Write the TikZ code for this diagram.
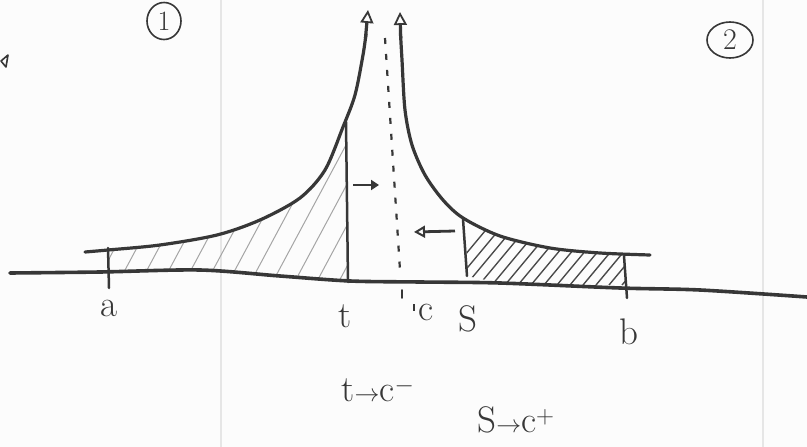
\documentclass[tikz,border=0pt]{standalone}
\usepackage{fontspec}
\usetikzlibrary{arrows.meta,shapes.geometric}
\definecolor{ink}{RGB}{55,55,55}
\definecolor{paper}{RGB}{252,252,252}
\definecolor{rule}{RGB}{230,230,230}
\tikzset{
  curve/.style={draw=ink,line width=3.2pt,line cap=round,line join=round},
  axisline/.style={draw=ink,line width=3.6pt,line cap=round},
  tickline/.style={draw=ink,line width=2.5pt,line cap=round},
  hatchlight/.style={draw=ink!45,line width=1pt},
  hatchdark/.style={draw=ink!90,line width=1.4pt},
  lbl/.style={text=ink,font=\fontsize{37}{40}\selectfont,inner sep=0pt},
  circled/.style={draw=ink,line width=1.6pt,ellipse,inner sep=0pt},
  opentip/.style={-{Triangle[open,length=13pt,width=13pt,line width=1.8pt]}},
}
\begin{document}
\begin{tikzpicture}[x=1pt,y=-1pt]
\useasboundingbox[fill=paper] (0,0) rectangle (807,447);
% faint paper rulings
\draw[rule,line width=1.2pt] (221,0) -- (221,447);
\draw[rule,line width=1.2pt] (763,0) -- (763,447);
% hatching, left region
\begin{scope}
  \clip (108,250) -- (160,245) -- (217,235) -- (260,220) -- (300,198) -- (325,170) -- (343,127) -- (348,118) -- (348,281) -- (280,276) -- (200,270) -- (108,273) -- cycle;
  \foreach \x in {95,117,...,360} \draw[hatchlight] (\x,285) -- ++(75,-140);
\end{scope}
% hatching, right region
\begin{scope}
  \clip (466,220) -- (500,236) -- (550,248) -- (600,253) -- (624,255) -- (626,287) -- (560,285) -- (500,283) -- (467,276) -- cycle;
  \foreach \x in {440,453,...,640} \draw[hatchdark] (\x,285) -- ++(50,-60);
\end{scope}
% axis
\draw[axisline] plot[smooth] coordinates {(10,273) (100,272) (200,270) (280,276) (350,281) (420,282) (500,283) (620,288) (700,290) (807,297)};
% curves
\draw[curve] plot[smooth] coordinates {(85,252) (108,250) (160,245) (217,235) (260,220) (300,198) (325,170) (343,127) (355,95) (363,55) (366,34)};
\draw[curve,opentip] (365.5,38) -- (368,10);
\draw[curve] plot[smooth] coordinates {(650,255) (600,253) (550,248) (500,236) (463,218) (443,200) (425,175) (412,145) (405,110) (402,60) (400.5,34)};
\draw[curve,opentip] (400.7,38) -- (400,12);
% vertical lines
\coordinate (atop) at (108,248); \coordinate (abot) at (109,288);
\coordinate (ttop) at (346,122); \coordinate (tbot) at (348,282);
\coordinate (stop) at (463,219); \coordinate (sbot) at (467,276);
\coordinate (btop) at (624,256); \coordinate (bbot) at (627,298);
\draw[tickline] (atop) -- (abot);
\draw[tickline] (ttop) -- (tbot);
\draw[tickline] (stop) -- (sbot);
\draw[tickline] (btop) -- (bbot);
% dotted line at c
\coordinate (ctop) at (385,38); \coordinate (cbot) at (400,270);
\draw[ink,line width=2.2pt,dash pattern=on 6pt off 10pt] (ctop) -- (cbot);
\draw[tickline,line width=1.6pt] (402,290) -- (402,298);
% small arrows
\coordinate (r1) at (353,185); \coordinate (r2) at (379,185);
\draw[ink,line width=2.8pt,-{Triangle[length=8pt,width=10pt]}] (r1) -- (r2);
\coordinate (l1) at (455,231); \coordinate (l2) at (414,232);
\draw[ink,line width=2.8pt,-{Triangle[open,length=11pt,width=12pt,line width=2pt]}] (l1) -- (l2);
% labels
\node[lbl] (la) at (109,308) {a};
\node[lbl] (lt) at (345,316) {t};
\node[lbl] (lc) at (426,312) {c};
\draw[ink,line width=1.4pt] (414,304) -- (414,311);
\node[lbl] (ls) at (468,319) {S};
\node[lbl] (lb) at (629,332) {b};
\node[lbl] (f1) at (378,390) {t$\to$c$^-$};
\node[lbl] (f2) at (516,420) {S$\to$c$^+$};
% circled numbers
\node[lbl,circled,minimum width=34pt,minimum height=37pt,font=\fontsize{28}{30}\selectfont] (n1) at (164,21) {1};
\node[lbl,circled,minimum width=46pt,minimum height=36pt,font=\fontsize{30}{32}\selectfont] (n2) at (730,40) {2};
% stray mark
\draw[ink,line width=1.6pt,line join=round] (1,61) -- (8,55) -- (6,67) -- cycle;
\end{tikzpicture}
\end{document}
